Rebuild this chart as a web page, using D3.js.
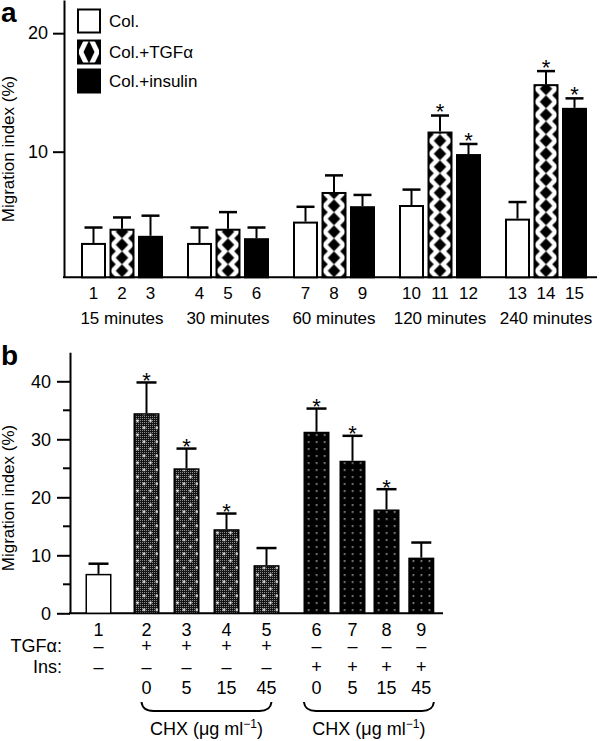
<!DOCTYPE html>
<html><head><meta charset="utf-8">
<script src="https://cdn.jsdelivr.net/npm/d3@7"></script>
<style>
body{margin:0;background:#fff}
svg{display:block;font-family:"Liberation Sans",Arial,Helvetica,sans-serif}
</style>
</head><body>
<svg id="c" width="600" height="741"></svg>
<script>
// ---------- DATA (panel a) ----------
const groupsA = ["15 minutes","30 minutes","60 minutes","120 minutes","240 minutes"];
const seriesA = ["Col.","Col.+TGFα","Col.+insulin"];
const colMean = [2.3, 2.3, 4.1, 5.5, 4.35];
const colSE   = [1.3, 1.3, 1.25, 1.3, 1.4];
const tgfMean = [3.5, 3.5, 6.6, 11.7, 15.7];
const tgfSE   = [0.95, 1.4, 1.4, 1.35, 1.1];
const insMean = [2.9, 2.7, 5.4, 9.8, 13.7];
const insSE   = [1.7, 0.9, 0.95, 0.85, 0.8];
const colSig  = [0,0,0,0,0];
const tgfSig  = [0,0,0,1,1];
const insSig  = [0,0,0,1,1];
const ticksA  = [10, 20];

// ---------- DATA (panel b) ----------
const labelsB = ["1","2","3","4","5","6","7","8","9"];
const typeB   = ["col","tgf","tgf","tgf","tgf","ins","ins","ins","ins"];
const meanB   = [6.8, 34.5, 25.0, 14.5, 8.3, 31.3, 26.3, 17.9, 9.6];
const seB     = [1.75, 5.3, 3.4, 2.7, 2.95, 4.0, 4.3, 3.5, 2.6];
const sigB    = [0,1,1,1,0,1,1,1,0];
const tgfSigns = ["–","+","+","+","+","–","–","–","–"];
const insSigns = ["–","–","–","–","–","+","+","+","+"];
const chxDose  = ["","0","5","15","45","0","5","15","45"];
const chxGroups = [["2","3","4","5"],["6","7","8","9"]];
const ticksB  = [0,10,20,30,40];
const minorB  = [5,15,25,35];

// ---------- LAYOUT ----------
const svg = d3.select("#c");
const defs = svg.append("defs");
const FS = 17, FSB = 18, STAR = 22;

// ===== Panel a =====
const yA = d3.scaleLinear().domain([-0.6, 22.8]).range([277.3, 0]);
const baseA = yA(-0.6);
const xA = d3.scaleBand().domain(groupsA).range([69, 599]);
const sA = d3.scalePoint().domain(seriesA).range([-28.5, 28.5]);
const bwA = 25;

const gA = svg.append("g");

const axA = gA.append("g").attr("transform","translate(64,0)")
  .call(d3.axisLeft(yA).tickValues(ticksA).tickSize(11).tickSizeOuter(0).tickPadding(5).tickFormat(d3.format("d")));
axA.attr("font-family",null);
axA.select(".domain").attr("stroke-width",2);
axA.selectAll(".tick line").attr("stroke-width",2);
axA.selectAll(".tick text").attr("font-size",FS+1).attr("fill","#000");

gA.append("line").attr("x1",63).attr("x2",597).attr("y1",baseA).attr("y2",baseA)
  .attr("stroke","#000").attr("stroke-width",2);

const recsA = [];
groupsA.forEach((g,i)=>{
  [[colMean,colSE,colSig],[tgfMean,tgfSE,tgfSig],[insMean,insSE,insSig]].forEach((arr,j)=>{
    recsA.push({g, s:seriesA[j], j, i, mean:arr[0][i], se:arr[1][i], sig:arr[2][i], n:i*3+j+1});
  });
});

function diamondTile(pat, w, h){
  pat.append("rect").attr("width",w).attr("height",h).attr("fill","#fff");
  const hw = w/4, hh = h/2;
  const dia = (cx,cy)=>`M${cx-hw},${cy}L${cx},${cy-hh}L${cx+hw},${cy}L${cx},${cy+hh}Z`;
  pat.append("path").attr("fill","#000")
    .attr("d", dia(w/2,h/2)+dia(0,0)+dia(w,0)+dia(0,h)+dia(w,h));
}

recsA.forEach(d=>{
  const cx = xA(d.g)+xA.bandwidth()/2+sA(d.s);
  let fill = "#fff";
  if(d.j===1){
    const id = "dia"+d.i;
    const pat = defs.append("pattern").attr("id",id).attr("patternUnits","userSpaceOnUse")
      .attr("x",cx-bwA/2).attr("y",baseA).attr("width",bwA).attr("height",13);
    diamondTile(pat,bwA,13);
    fill = `url(#${id})`;
  } else if(d.j===2){ fill = "#000"; }
  gA.append("rect").attr("x",cx-bwA/2+1).attr("width",bwA-2)
    .attr("y",yA(d.mean)+1).attr("height",baseA-yA(d.mean)-1)
    .attr("fill",fill).attr("stroke","#000").attr("stroke-width",2);
  const top = yA(d.mean+d.se);
  gA.append("line").attr("x1",cx).attr("x2",cx).attr("y1",yA(d.mean)).attr("y2",top)
    .attr("stroke","#000").attr("stroke-width",2);
  gA.append("line").attr("x1",cx-9).attr("x2",cx+9).attr("y1",top).attr("y2",top)
    .attr("stroke","#000").attr("stroke-width",2.5);
  if(d.sig){
    gA.append("text").attr("x",cx).attr("y",top+3.6).attr("text-anchor","middle")
      .attr("font-size",STAR).text("*");
  }
  gA.append("text").attr("x",cx).attr("y",293).attr("dy","0.36em").attr("text-anchor","middle")
    .attr("font-size",FS).text(d.n);
});
groupsA.forEach(g=>{
  gA.append("text").attr("x",xA(g)+xA.bandwidth()/2).attr("y",318).attr("dy","0.36em")
    .attr("text-anchor","middle").attr("font-size",FS).text(g);
});

// legend
const legY = [9.5, 40.5, 69.5];
seriesA.forEach((s,j)=>{
  let fill = j===0 ? "#fff" : "#000";
  if(j===1){
    const pat = defs.append("pattern").attr("id","diaLeg").attr("patternUnits","userSpaceOnUse")
      .attr("x",78).attr("y",legY[j]).attr("width",22).attr("height",23);
    diamondTile(pat,22,23);
    fill = "url(#diaLeg)";
  }
  gA.append("rect").attr("x",78).attr("y",legY[j]).attr("width",22).attr("height",23)
    .attr("fill",fill).attr("stroke","#000").attr("stroke-width",2);
  gA.append("text").attr("x",109).attr("y",legY[j]+11.5).attr("dy","0.36em")
    .attr("font-size",FS).text(s);
});

gA.append("text").attr("transform","translate(14,149) rotate(-90)").attr("text-anchor","middle")
  .attr("font-size",FS).text("Migration index (%)");
gA.append("text").attr("x",1).attr("y",22).attr("font-size",28).attr("font-weight","bold").text("a");

// ===== Panel b =====
const yB = d3.scaleLinear().domain([0,45]).range([613.3, 352.3]);
const slotB = [0, 1.2, 2.2, 3.2, 4.2, 5.45, 6.35, 7.2, 8.07];
const xB = d3.scaleLinear().domain([0,1]).range([98.5, 138.5]);
const bwB = 26;
const gB = svg.append("g");

const axB = gB.append("g").attr("transform","translate(70,0)")
  .call(d3.axisLeft(yB).tickValues(ticksB).tickSize(13).tickSizeOuter(0).tickPadding(6).tickFormat(d3.format("d")));
axB.attr("font-family",null);
axB.select(".domain").attr("stroke-width",2);
axB.selectAll(".tick line").attr("stroke-width",2);
axB.selectAll(".tick text").attr("font-size",FSB).attr("fill","#000");
minorB.forEach(v=>{
  gB.append("line").attr("x1",63).attr("x2",70).attr("y1",yB(v)).attr("y2",yB(v))
    .attr("stroke","#000").attr("stroke-width",2);
});
gB.append("line").attr("x1",69).attr("x2",443).attr("y1",yB(0)).attr("y2",yB(0))
  .attr("stroke","#000").attr("stroke-width",2);

// base stipple pattern
const stip = defs.append("pattern").attr("id","stip").attr("patternUnits","userSpaceOnUse")
  .attr("width",2).attr("height",2);
stip.append("rect").attr("width",2).attr("height",2).attr("fill","#141414");
stip.append("rect").attr("width",1).attr("height",1).attr("fill","#8a8a8a");

labelsB.forEach((lab,k)=>{
  const cx = xB(slotB[k]);
  const left = cx-bwB/2;
  const yTop = yB(meanB[k]);
  const base = yB(0);
  const t = typeB[k];
  const rect = gB.append("rect").attr("x",left+0.75).attr("width",bwB-1.5)
    .attr("y",yTop+0.75).attr("height",base-yTop-0.75).attr("stroke","#000").attr("stroke-width",1.5);
  if(t==="col"){ rect.attr("fill","#fff"); }
  else if(t==="tgf"){
    rect.attr("fill","url(#stip)");
    const id = "tdot"+k;
    const p = defs.append("pattern").attr("id",id).attr("patternUnits","userSpaceOnUse")
      .attr("x",left).attr("y",base).attr("width",13).attr("height",14);
    p.append("circle").attr("cx",4).attr("cy",3.5).attr("r",1.3).attr("fill","#fff");
    p.append("circle").attr("cx",10.5).attr("cy",10.5).attr("r",1.3).attr("fill","#fff");
    gB.append("rect").attr("x",left+1.5).attr("width",bwB-3)
      .attr("y",yTop+1.5).attr("height",base-yTop-1.5).attr("fill",`url(#${id})`);
  } else {
    const id = "idot"+k;
    const p = defs.append("pattern").attr("id",id).attr("patternUnits","userSpaceOnUse")
      .attr("x",left+1).attr("y",base).attr("width",8).attr("height",7);
    p.append("rect").attr("width",8).attr("height",7).attr("fill","#000");
    p.append("rect").attr("x",3.5).attr("y",3).attr("width",1.4).attr("height",1.4).attr("fill","#e8e8e8");
    rect.attr("fill",`url(#${id})`);
  }
  const top = yB(meanB[k]+seB[k]);
  gB.append("line").attr("x1",cx).attr("x2",cx).attr("y1",yTop).attr("y2",top)
    .attr("stroke","#000").attr("stroke-width",2);
  gB.append("line").attr("x1",cx-10).attr("x2",cx+10).attr("y1",top).attr("y2",top)
    .attr("stroke","#000").attr("stroke-width",2.5);
  if(sigB[k]){
    gB.append("text").attr("x",cx).attr("y",top+5.6).attr("text-anchor","middle")
      .attr("font-size",STAR).text("*");
  }
  const row = (txt,y)=>gB.append("text").attr("x",cx).attr("y",y).attr("dy","0.36em")
    .attr("text-anchor","middle").attr("font-size",FSB).text(txt);
  row(lab,630);
  row(tgfSigns[k],646);
  row(insSigns[k],667);
  if(chxDose[k]) row(chxDose[k],688);
});

gB.append("text").attr("x",62).attr("y",646).attr("dy","0.36em").attr("text-anchor","end")
  .attr("font-size",FSB).text("TGFα:");
gB.append("text").attr("x",62).attr("y",667).attr("dy","0.36em").attr("text-anchor","end")
  .attr("font-size",FSB).text("Ins:");

chxGroups.forEach(grp=>{
  const idx = grp.map(l=>labelsB.indexOf(l));
  const c = (xB(slotB[idx[0]])+xB(slotB[idx[idx.length-1]]))/2;
  const x0 = c-65, x1 = c+65, y0 = 702, y1 = 711, r = 12;
  gB.append("path")
    .attr("d",`M${x0},${y0} Q${x0+1},${y1} ${x0+r},${y1} L${x1-r},${y1} Q${x1-1},${y1} ${x1},${y0}`)
    .attr("fill","none").attr("stroke","#000").attr("stroke-width",2);
  const t = gB.append("text").attr("x",c).attr("y",735).attr("text-anchor","middle").attr("font-size",FSB);
  t.append("tspan").text("CHX (μg ml");
  t.append("tspan").attr("font-size",12).attr("dy",-7).text("−1");
  t.append("tspan").attr("dy",7).text(")");
});

gB.append("text").attr("transform","translate(14,498) rotate(-90)").attr("text-anchor","middle")
  .attr("font-size",FS).text("Migration index (%)");
gB.append("text").attr("x",1).attr("y",365).attr("font-size",28).attr("font-weight","bold").text("b");
</script>
</body></html>
